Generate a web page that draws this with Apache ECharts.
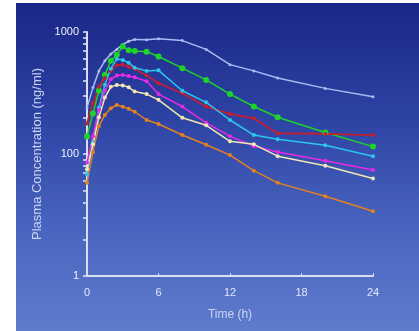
<!DOCTYPE html>
<html>
<head>
<meta charset="utf-8">
<script src="https://cdn.jsdelivr.net/npm/echarts@6/dist/echarts.min.js"></script>
<style>
html,body{margin:0;padding:0;background:#fff;}
#bg{position:absolute;left:16px;top:3px;width:403px;height:328px;background:linear-gradient(to bottom,#1a2686 0%,#2d43a4 35%,#4a66c0 70%,#5e7bcc 100%);}
#chart{position:absolute;left:0;top:0;width:419px;height:331px;}
</style>
</head>
<body>
<div id="bg"></div>
<div id="chart"></div>
<script>
var times = [0, 0.5, 1, 1.5, 2, 2.5, 3, 3.5, 4, 5, 6, 8, 10, 12, 14, 16, 20, 24];
var lightBlue = [240, 350, 480, 580, 660, 720, 790, 840, 870, 865, 880, 850, 720, 540, 480, 420, 345, 295];
var green     = [139, 215, 330, 444, 580, 650, 760, 710, 700, 690, 630, 505, 405, 310, 245, 200, 150, 115];
var red       = [178, 260, 356, 420, 480, 535, 540, 520, 500, 440, 380, 315, 245, 213, 196, 148, 146, 143];
var cyan      = [68, 125, 240, 370, 500, 600, 590, 560, 510, 480, 485, 330, 265, 190, 143, 132, 118, 96];
var magenta   = [85, 140, 230, 330, 410, 440, 445, 435, 425, 395, 310, 245, 180, 140, 116, 104, 88, 74];
var cream     = [75, 120, 200, 290, 355, 368, 365, 352, 325, 310, 278, 198, 172, 127, 120, 96, 80, 63];
var orange    = [58, 104, 170, 209, 237, 252, 244, 235, 222, 190, 176, 143, 119, 98, 73, 58, 45, 34];
var xTicks = [0, 6, 12, 18, 24];
var yTickValues = [10, 100, 1000];
var yTickText = ['1', '100', '1000'];
var yMinorTicks = [10, 20, 30, 40, 50, 60, 70, 80, 90, 100, 200, 300, 400, 500, 600, 700, 800, 900, 1000];

function pairs(vals){ return times.map(function(t,i){ return [t, vals[i]]; }); }
function ser(vals, color, size, width){
  return {type:'line', data:pairs(vals), symbol:'circle', symbolSize:size, showSymbol:true,
    lineStyle:{color:color, width:width}, itemStyle:{color:color}, z:2};
}
var chart = echarts.init(document.getElementById('chart'));
chart.setOption({
  animation:false,
  backgroundColor:'transparent',
  grid:{left:87, right:46, top:32, bottom:55},
  xAxis:{type:'value', min:xTicks[0], max:xTicks[xTicks.length-1], interval:6,
    name:'Time (h)', nameLocation:'middle', nameGap:33,
    nameTextStyle:{color:'#c9d3f2', fontSize:12, fontFamily:'Liberation Sans'},
    axisLine:{lineStyle:{color:'#d6def4', width:2}},
    axisTick:{show:true, length:3, inside:true, lineStyle:{color:'#d6def4'}},
    splitLine:{show:false},
    axisLabel:{color:'#e4e9f8', fontSize:11, margin:11, fontFamily:'Liberation Sans'}},
  yAxis:{type:'log', logBase:10, min:yTickValues[0], max:yTickValues[2],
    name:'Plasma Concentration (ng/ml)', nameLocation:'middle', nameGap:40, nameRotate:90,
    nameTextStyle:{color:'#c9d3f2', fontSize:13, fontFamily:'Liberation Sans'},
    axisLine:{show:true, lineStyle:{color:'#d6def4', width:2}},
    axisTick:{show:true, length:4, customValues:yMinorTicks, lineStyle:{color:'#e2e8f8', width:1.5}},
    minorTick:{show:true, splitNumber:9, length:4, lineStyle:{color:'#e2e8f8', width:1.5}},
    splitLine:{show:false},
    axisLabel:{color:'#f0f3fc', fontSize:11, margin:8, fontFamily:'Liberation Sans',
      customValues:yTickValues,
      formatter:function(v){ var i = yTickValues.indexOf(Math.round(v)); return i>=0 ? yTickText[i] : ''; }}},
  series:[
    ser(lightBlue, '#a9bdf0', 3, 1.5),
    ser(green, '#1ed42a', 6, 1.5),
    ser(red, '#c41e32', 4, 1.8),
    ser(cyan, '#2cc6ec', 4, 1.5),
    ser(magenta, '#e62ae6', 4, 1.5),
    ser(cream, '#f2e8b4', 4, 1.5),
    ser(orange, '#e3821e', 4, 1.5)
  ]
});
</script>
</body>
</html>
